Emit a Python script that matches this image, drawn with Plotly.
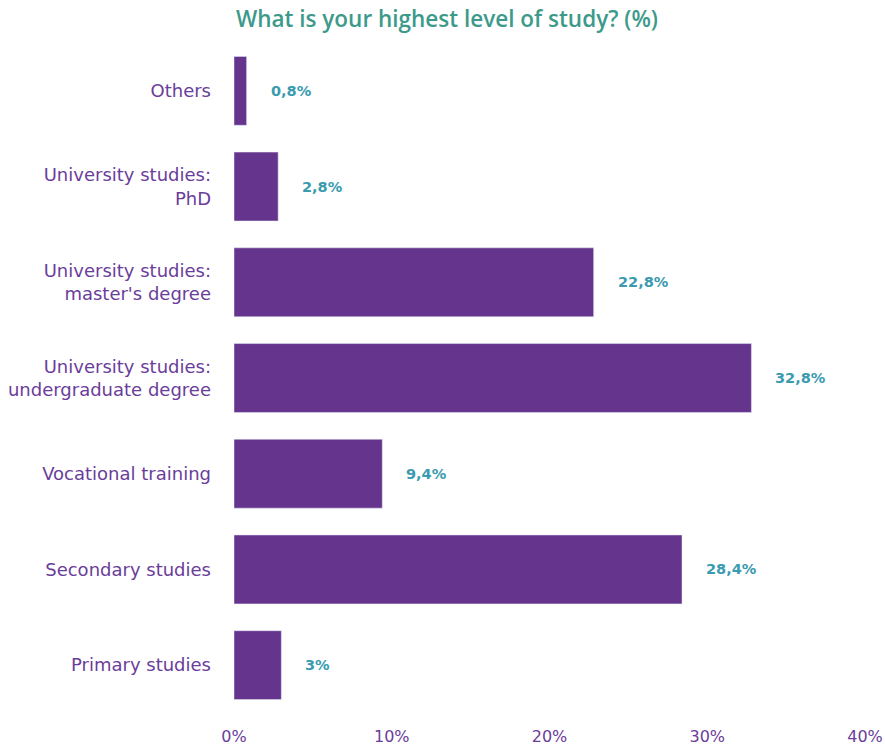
import plotly.graph_objects as go

categories = [
    "Primary studies",
    "Secondary studies",
    "Vocational training",
    "University studies:<br>undergraduate degree",
    "University studies:<br>master's degree",
    "University studies:<br>PhD",
    "Others",
]
values = [3.0, 28.4, 9.4, 32.8, 22.8, 2.8, 0.8]
value_labels = ["3%", "28,4%", "9,4%", "32,8%", "22,8%", "2,8%", "0,8%"]
tick_vals = [0, 10, 20, 30, 40]
tick_text = ["0%", "10%", "20%", "30%", "40%"]

BAR = "#65358e"
LABEL = "#3a9bb0"
TITLE = "#3d9a8b"
AXIS_TEXT = "#6a3d9a"
FONT = "DejaVu Sans, sans-serif"
TITLE_FONT = "Open Sans, sans-serif"

fig = go.Figure(
    go.Bar(
        x=values,
        y=categories,
        orientation="h",
        marker_color=BAR,
        width=0.72,
        hoverinfo="skip",
    )
)

for cat, v, t in zip(categories, values, value_labels):
    fig.add_annotation(
        x=v, y=cat, text=t, showarrow=False,
        xanchor="left", xshift=22,
        font=dict(family=FONT, size=14.5, color=LABEL, weight="bold"),
    )

fig.update_layout(
    width=885,
    height=745,
    margin=dict(l=234, r=20, t=43, b=32),
    paper_bgcolor="white",
    plot_bgcolor="white",
    showlegend=False,
    title=dict(
        text="What is your highest level of study? (%)",
        x=0.505, xanchor="center", y=0.975, yanchor="middle",
        font=dict(family=TITLE_FONT, size=22.5, color=TITLE, weight=600),
    ),
    xaxis=dict(
        range=[0, 40],
        tickvals=tick_vals,
        ticktext=tick_text,
        showgrid=False,
        zeroline=False,
        showline=False,
        ticks="",
        ticklabelstandoff=12,
        tickfont=dict(family=FONT, size=16, color=AXIS_TEXT),
        automargin=False,
        fixedrange=True,
    ),
    yaxis=dict(
        categoryorder="array",
        categoryarray=categories,
        range=[-0.5, 6.5],
        showgrid=False,
        zeroline=False,
        showline=False,
        ticks="",
        ticklabelstandoff=22,
        tickfont=dict(family=FONT, size=18, color=AXIS_TEXT),
        automargin=False,
        fixedrange=True,
    ),
)

fig.write_html("out.html")
